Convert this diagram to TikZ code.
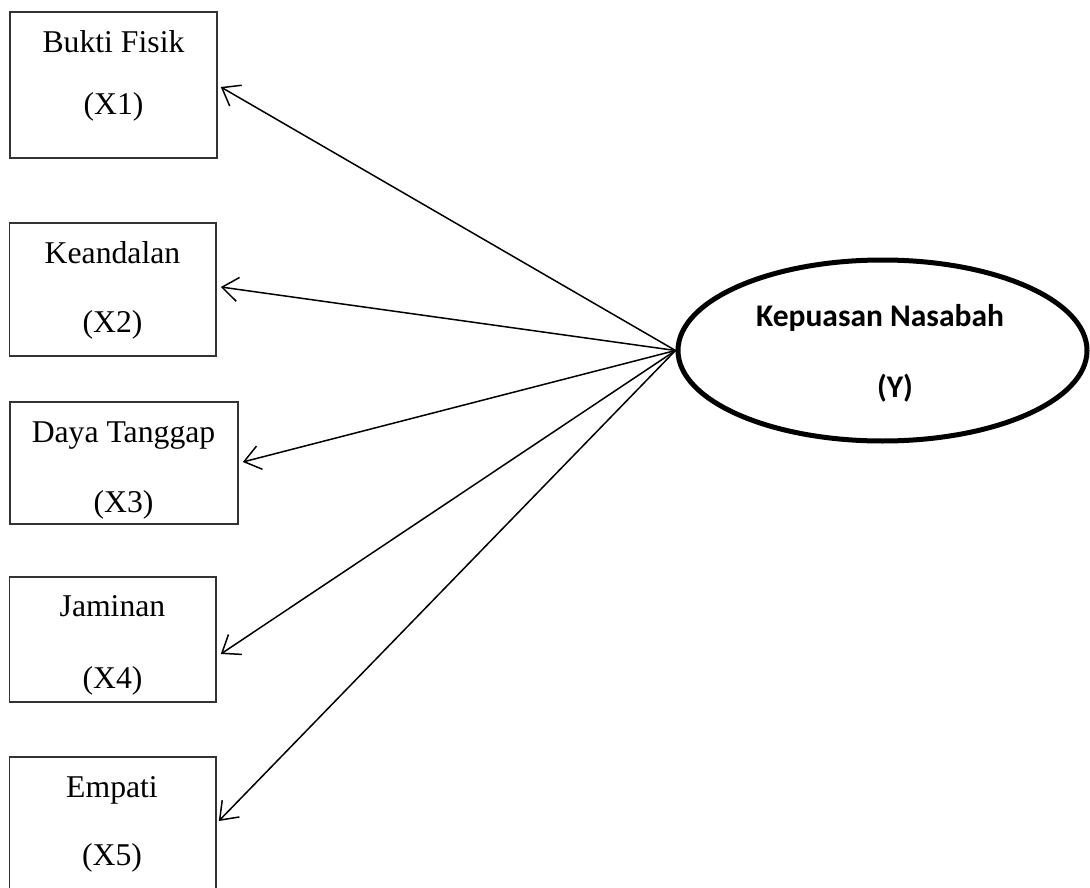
\documentclass[tikz,border=0pt]{standalone}
\usepackage{fontspec}
\setmainfont{Liberation Serif}
\newfontfamily\calib{Carlito}
\usetikzlibrary{arrows.meta,shapes.geometric}
\begin{document}
\begin{tikzpicture}[x=1pt,y=-1pt,
  box/.style={draw=black!80, line width=1.6pt, inner sep=0pt, rectangle},
  lbl/.style={font=\fontsize{31.7}{38}\selectfont, anchor=base, inner sep=0pt},
  ylbl/.style={font=\calib\bfseries\fontsize{31.5}{38}\selectfont, anchor=base, inner sep=0pt},
  arr/.style={-{Straight Barb[length=16pt,width=24pt,line width=1.5pt]}, line width=1.5pt},
  ell/.style={draw, ellipse, line width=5pt, minimum width=409pt, minimum height=181pt, inner sep=0pt}]
\clip (0,0) rectangle (1090,888);
% boxes
\node[box, minimum width=207pt, minimum height=146pt] (x1) at (113.5,85) {};
\node[box, minimum width=206.5pt, minimum height=133pt] (x2) at (112.75,289.5) {};
\node[box, minimum width=228pt, minimum height=122pt] (x3) at (124,463) {};
\node[box, minimum width=206.5pt, minimum height=125pt] (x4) at (112.75,639.5) {};
\node[box, minimum width=206.5pt, minimum height=134pt] (x5) at (112.75,824) {};
% labels
\node[lbl] (l1a) at (113.5,53) {Bukti Fisik};
\node[lbl] (l1b) at (113.5,115) {(X1)};
\node[lbl] (l2a) at (112.5,263) {Keandalan};
\node[lbl] (l2b) at (112.5,332) {(X2)};
\node[lbl] (l3a) at (123.5,442) {Daya Tanggap};
\node[lbl] (l3b) at (123.5,512) {(X3)};
\node[lbl] (l4a) at (112.5,616) {Jaminan};
\node[lbl] (l4b) at (112.5,688) {(X4)};
\node[lbl] (l5a) at (112,797) {Empati};
\node[lbl] (l5b) at (112,865) {(X5)};
% ellipse
\node[ell] (y) at (882.5,350.5) {};
\node[ylbl] (ya) at (880,326) {Kepuasan Nasabah};
\node[ylbl] (yb) at (895,397) {(Y)};
% arrows
\draw[arr] (y.west) -- ([xshift=3pt,yshift=-2pt]x1.east);
\draw[arr] (y.west) -- ([xshift=4pt,yshift=2.5pt]x2.east);
\draw[arr] (y.west) -- ([xshift=4pt,yshift=1pt]x3.east);
\draw[arr] (y.west) -- ([xshift=4pt,yshift=-14.5pt]x4.east);
\draw[arr] (y.west) -- ([xshift=2pt,yshift=3pt]x5.east);
\end{tikzpicture}
\end{document}
